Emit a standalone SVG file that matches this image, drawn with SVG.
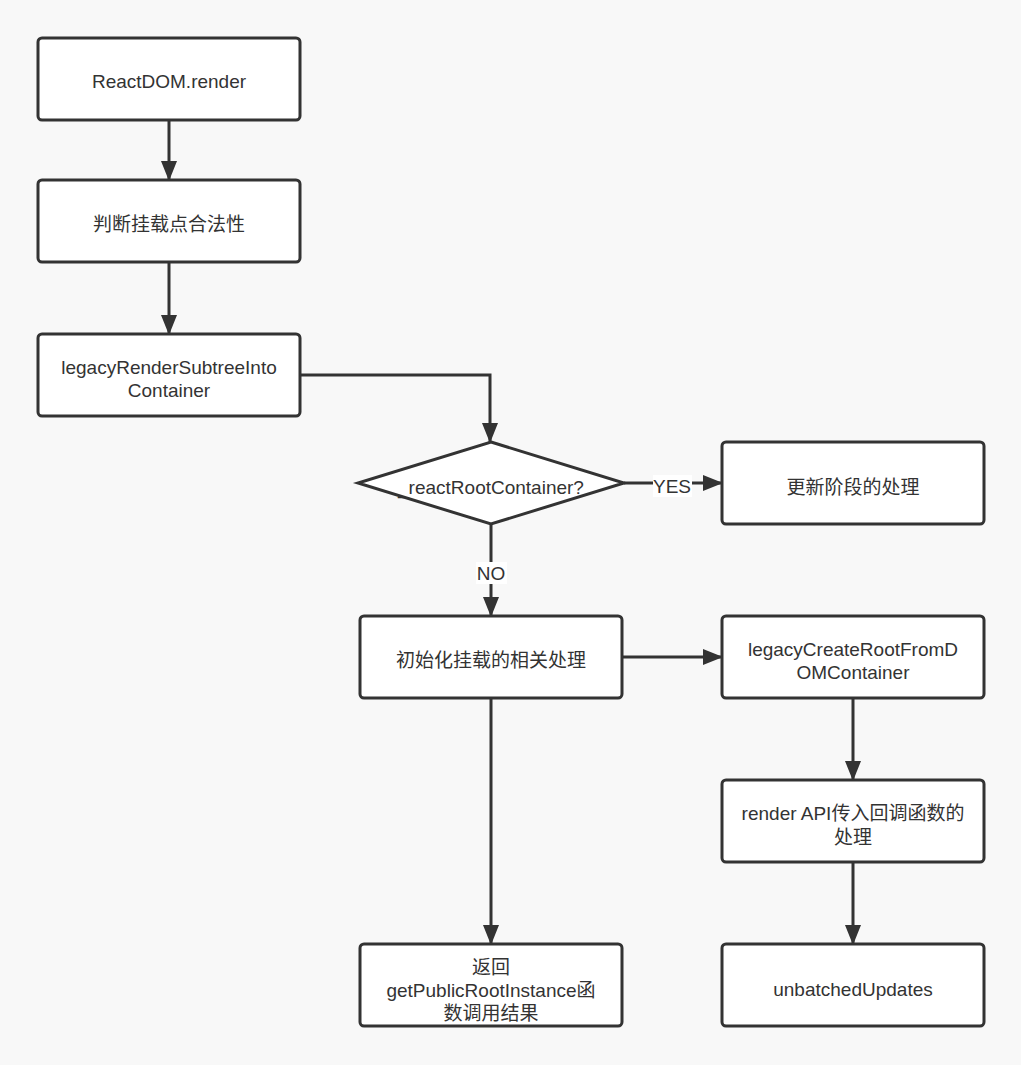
<svg xmlns="http://www.w3.org/2000/svg" width="1021" height="1065" viewBox="0 0 1021 1065">
<defs>
<marker id="arr" markerUnits="userSpaceOnUse" markerWidth="20" markerHeight="16" viewBox="0 0 20 16" refX="19" refY="8" orient="auto">
<path d="M0,0 L20,8 L0,16 Z" fill="#333"/>
</marker>
<style>
.box{fill:#fff;stroke:#333;stroke-width:3}
.t{font-family:"Liberation Sans","Noto Sans CJK SC",sans-serif;font-size:19px;fill:#333;text-anchor:middle}
.c{fill:none;stroke:#333;stroke-width:3;marker-end:url(#arr)}
.lbl{fill:#fff}
</style>
</defs>
<rect width="1021" height="1065" fill="#f8f8f8"/>
<g id="connectors">
<path class="c" d="M169,120 L169,180"/>
<path class="c" d="M169,262 L169,334"/>
<path class="c" d="M300,375 L490,375 L490,442"/>
<path class="c" d="M624,483 L722,483"/>
<path class="c" d="M491,524 L491,616"/>
<path class="c" d="M622,657 L722,657"/>
<path class="c" d="M853,698 L853,780"/>
<path class="c" d="M853,862 L853,944"/>
<path class="c" d="M491,698 L491,944"/>
<rect class="lbl" x="653" y="475" width="39" height="22"/>
<text class="t" x="672" y="493">YES</text>
<rect class="lbl" x="476" y="562" width="31" height="22"/>
<text class="t" x="491" y="580">NO</text>
</g>
<g id="n1"><rect class="box" x="38" y="38" width="262" height="82" rx="4"/><text class="t" x="169" y="88">ReactDOM.render</text></g>
<g id="n2"><rect class="box" x="38" y="180" width="262" height="82" rx="4"/><text class="t" x="169" y="231">判断挂载点合法性</text></g>
<g id="n3"><rect class="box" x="38" y="334" width="262" height="82" rx="4"/><text class="t" x="169" y="374">legacyRenderSubtreeInto</text><text class="t" x="169" y="397">Container</text></g>
<g id="n4"><polygon class="box" points="491,442 624,483 491,524 358,483"/><text class="t" x="491" y="494">_reactRootContainer?</text></g>
<g id="n5"><rect class="box" x="722" y="442" width="262" height="82" rx="4"/><text class="t" x="853" y="494">更新阶段的处理</text></g>
<g id="n6"><rect class="box" x="360" y="616" width="262" height="82" rx="4"/><text class="t" x="491" y="667">初始化挂载的相关处理</text></g>
<g id="n7"><rect class="box" x="722" y="616" width="262" height="82" rx="4"/><text class="t" x="853" y="656">legacyCreateRootFromD</text><text class="t" x="853" y="679">OMContainer</text></g>
<g id="n8"><rect class="box" x="722" y="780" width="262" height="82" rx="4"/><text class="t" x="853" y="820">render API传入回调函数的</text><text class="t" x="853" y="844">处理</text></g>
<g id="n9"><rect class="box" x="722" y="944" width="262" height="82" rx="4"/><text class="t" x="853" y="996">unbatchedUpdates</text></g>
<g id="n10"><rect class="box" x="360" y="944" width="262" height="82" rx="4"/><text class="t" x="491" y="974">返回</text><text class="t" x="491" y="997">getPublicRootInstance函</text><text class="t" x="491" y="1020">数调用结果</text></g>
</svg>
